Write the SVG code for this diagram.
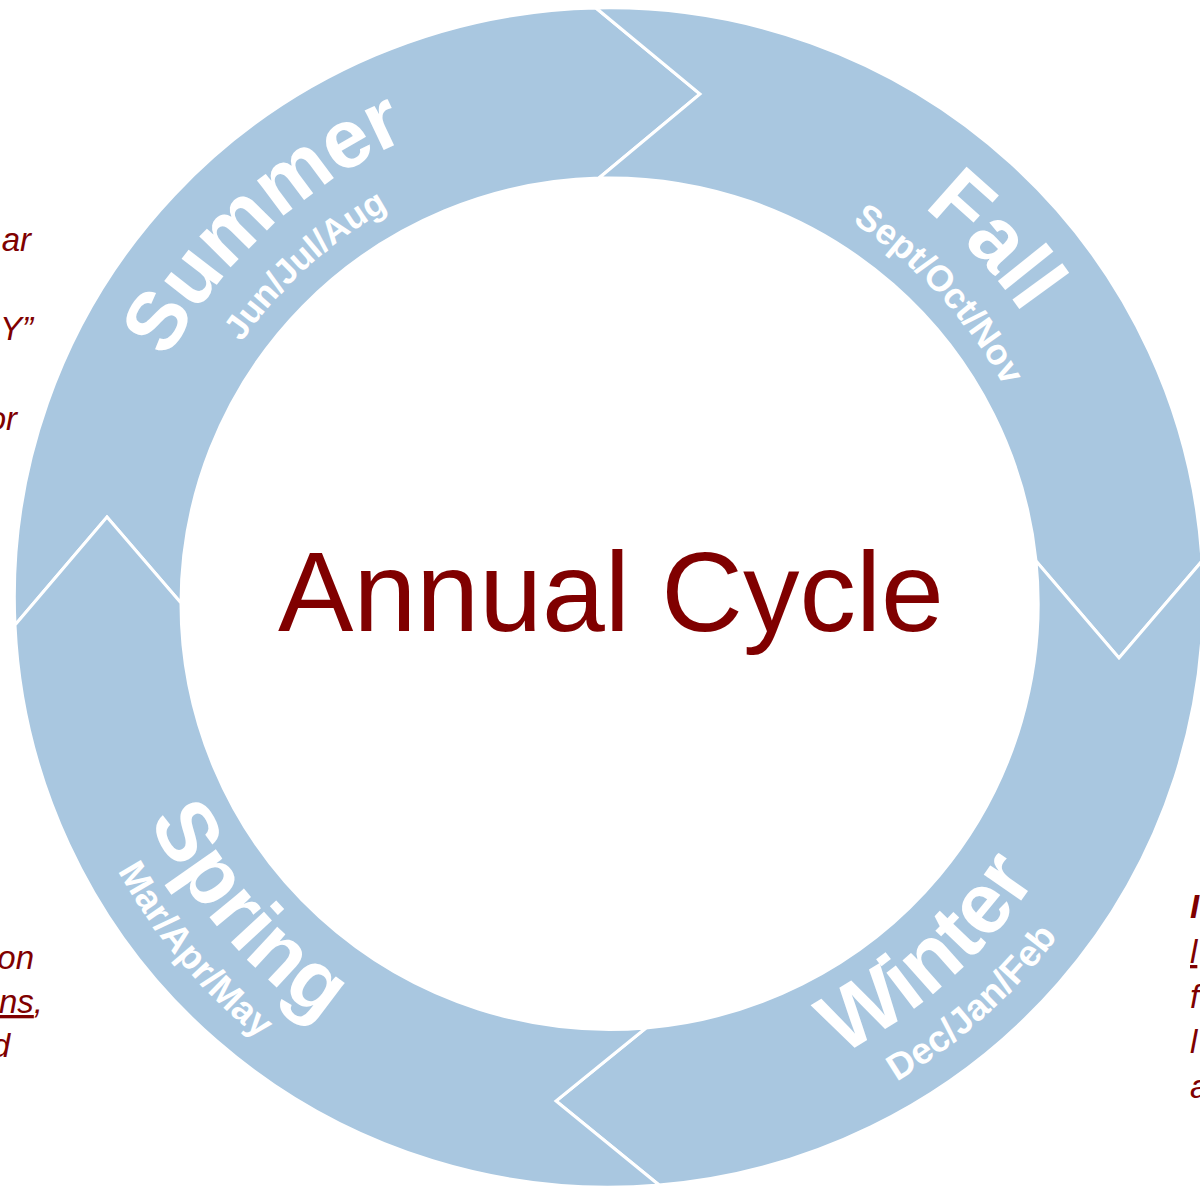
<svg xmlns="http://www.w3.org/2000/svg" xmlns:xlink="http://www.w3.org/1999/xlink" width="1200" height="1189" viewBox="0 0 1200 1189">
<style>
.seg{fill:#a9c7e0;stroke:#ffffff;stroke-width:3;stroke-linejoin:miter}
.lbl{font-family:"Liberation Sans",Arial,sans-serif;font-weight:bold;fill:#ffffff}
.side{font-family:"Liberation Sans",Arial,sans-serif;font-style:italic;fill:#7f0000;font-size:33px}
.title{font-family:"Liberation Sans",Arial,sans-serif;fill:#800000;font-size:113px}
</style>
<defs>
<path id="topMain" d="M173.39,348.5 A503,503 0 0 1 1044.61,348.5"/>
<path id="topSub" d="M220.15,375.5 A449,449 0 0 1 997.85,375.5"/>
<path id="botMain" d="M167.32,855 A510,510 0 0 0 1050.68,855"/>
<path id="botSub" d="M123.16,880.5 A561,561 0 0 0 1094.84,880.5"/>
</defs>
<rect x="0" y="0" width="1200" height="1189" fill="#ffffff"/>
<g id="connectors"/>
<g id="summer">
<path class="seg" d="M15,625 L107,517 L181,603 A429,426 0 0 1 599,178 L700,94 L596,8 A594,589 0 0 0 15,625 Z"/>
<text class="lbl" font-size="83" transform="rotate(-42.5 609 600)"><textPath xlink:href="#topMain" href="#topMain" startOffset="50%" text-anchor="middle">Summer</textPath></text>
<text class="lbl" font-size="35" transform="rotate(-42.2 609 600)"><textPath xlink:href="#topSub" href="#topSub" startOffset="50%" text-anchor="middle">Jun/Jul/Aug</textPath></text>
</g>
<g id="fall">
<path class="seg" d="M596,8 L700,94 L599,178 A429,426 0 0 1 1036,561 L1119,658 L1202,561 A594,589 0 0 0 596,8 Z"/>
<text class="lbl" font-size="85" transform="rotate(47 609 600)"><textPath xlink:href="#topMain" href="#topMain" startOffset="50%" text-anchor="middle">Fall</textPath></text>
<text class="lbl" font-size="36" transform="rotate(47.2 609 600)"><textPath xlink:href="#topSub" href="#topSub" startOffset="50%" text-anchor="middle">Sept/Oct/Nov</textPath></text>
</g>
<g id="winter">
<path class="seg" d="M1202,561 L1119,658 L1036,561 A429,426 0 0 1 646,1028 L556,1101 L659,1185 A594,589 0 0 0 1202,561 Z"/>
<text class="lbl" font-size="86" transform="rotate(-42 609 600)"><textPath xlink:href="#botMain" href="#botMain" startOffset="50%" text-anchor="middle">Winter</textPath></text>
<text class="lbl" font-size="37" transform="rotate(-42 609 600)"><textPath xlink:href="#botSub" href="#botSub" startOffset="50%" text-anchor="middle">Dec/Jan/Feb</textPath></text>
</g>
<g id="spring">
<path class="seg" d="M659,1185 L556,1101 L646,1028 A429,426 0 0 1 181,603 L107,517 L15,625 A594,589 0 0 0 659,1185 Z"/>
<text class="lbl" font-size="85" transform="rotate(49.3 609 600)"><textPath xlink:href="#botMain" href="#botMain" startOffset="50%" text-anchor="middle">Spring</textPath></text>
<text class="lbl" font-size="37" transform="rotate(49.8 609 600)"><textPath xlink:href="#botSub" href="#botSub" startOffset="50%" text-anchor="middle">Mar/Apr/May</textPath></text>
</g>
<g id="center">
<text class="title" x="611" y="631" text-anchor="middle">Annual Cycle</text>
</g>
<g id="left-notes">
<text class="side" x="31" y="251" text-anchor="end">ar</text>
<text class="side" x="33" y="340" text-anchor="end">Y”</text>
<text class="side" x="17" y="430" text-anchor="end">or</text>
<text class="side" x="34" y="969" text-anchor="end">on</text>
<text class="side" x="43" y="1013" text-anchor="end"><tspan text-decoration="underline">ns</tspan>,</text>
<text class="side" x="10" y="1057" text-anchor="end">d</text>
</g>
<g id="right-notes">
<text class="side" x="1190" y="918" font-weight="bold">I</text>
<text class="side" x="1190" y="963" text-decoration="underline">l</text>
<text class="side" x="1190" y="1008">f</text>
<text class="side" x="1190" y="1053">l</text>
<text class="side" x="1190" y="1098">a</text>
</g>
</svg>
